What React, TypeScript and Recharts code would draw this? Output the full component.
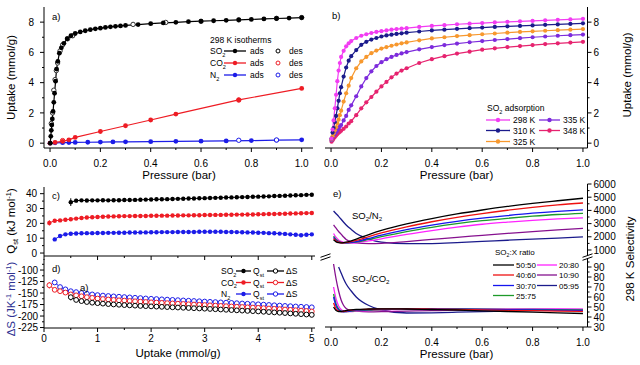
import React from 'react';
import { ComposedChart, Line, XAxis, YAxis, ErrorBar } from 'recharts';

const FONT = '"Liberation Sans", Arial, Helvetica, sans-serif';

// ---------- Panel a: 298 K isotherms ----------
const aSO2AdsP = [0.001,0.003,0.005,0.007,0.009,0.012,0.015,0.018,0.022,0.026,0.031,0.037,0.045,0.055,0.068,0.083,0.1,0.12,0.14,0.16,0.18,0.2,0.22,0.24,0.26,0.28,0.3,0.35,0.4,0.45,0.5,0.55,0.6,0.65,0.7,0.75,0.8,0.85,0.9,0.95,1.0];
const aSO2AdsV = [0.0,0.45,0.85,1.2,1.6,2.1,2.7,3.3,4.1,4.9,5.4,5.95,6.3,6.6,6.9,7.1,7.25,7.35,7.43,7.5,7.56,7.6,7.65,7.69,7.72,7.75,7.78,7.84,7.9,7.95,7.99,8.03,8.06,8.09,8.12,8.15,8.18,8.21,8.24,8.27,8.3];
const aSO2DesP = [0.005,0.01,0.015,0.02,0.025,0.03,0.04,0.05,0.07,0.09,0.33,0.46,0.6,0.75,0.9,1.0];
const aSO2DesV = [1.3,2.0,3.5,4.2,4.8,5.3,6.1,6.5,6.9,7.1,7.85,7.98,8.05,8.15,8.25,8.3];
const aCO2AdsP = [0.0,0.02,0.05,0.075,0.1,0.2,0.3,0.4,0.5,0.75,1.0];
const aCO2AdsV = [0.0,0.05,0.12,0.22,0.38,0.77,1.15,1.53,1.92,2.86,3.62];
const aCO2DesP = [0.05,0.75];
const aCO2DesV = [0.17,2.85];
const aN2AdsP = [0.0,0.02,0.05,0.075,0.1,0.15,0.2,0.25,0.3,0.4,0.5,0.6,0.7,0.8,0.9,1.0];
const aN2AdsV = [0.0,0.02,0.03,0.04,0.05,0.06,0.07,0.08,0.09,0.1,0.12,0.13,0.15,0.17,0.2,0.22];
const aN2DesP = [0.75,0.9];
const aN2DesV = [0.19,0.21];

// ---------- Panel b: SO2 adsorption at several temperatures ----------
const bP = [0.002,0.006,0.01,0.015,0.02,0.025,0.03,0.035,0.04,0.05,0.06,0.07,0.08,0.1,0.12,0.14,0.16,0.18,0.2,0.22,0.24,0.26,0.28,0.3,0.35,0.4,0.45,0.5,0.55,0.6,0.65,0.7,0.75,0.8,0.85,0.9,0.95,1.0];
const b298 = [0.3,0.9,1.5,2.3,3.2,4.1,4.8,5.3,5.7,6.1,6.4,6.6,6.75,6.95,7.1,7.2,7.28,7.35,7.4,7.45,7.5,7.54,7.57,7.6,7.68,7.75,7.8,7.86,7.9,7.94,7.98,8.02,8.05,8.08,8.12,8.15,8.18,8.22];
const b310 = [0.3,0.7,1.0,1.4,1.8,2.3,2.8,3.3,3.7,4.4,5.0,5.45,5.75,6.15,6.5,6.7,6.85,6.95,7.05,7.12,7.17,7.22,7.26,7.3,7.38,7.45,7.5,7.56,7.6,7.64,7.68,7.72,7.75,7.78,7.82,7.85,7.88,7.92];
const b325 = [0.25,0.45,0.65,0.85,1.05,1.3,1.55,1.85,2.15,2.75,3.3,3.8,4.3,4.95,5.4,5.7,5.95,6.12,6.25,6.35,6.44,6.52,6.6,6.66,6.8,6.92,7.0,7.08,7.14,7.2,7.25,7.3,7.35,7.39,7.43,7.47,7.5,7.54];
const b335 = [0.2,0.35,0.5,0.6,0.72,0.85,0.98,1.1,1.2,1.5,1.8,2.2,2.5,3.1,3.75,4.3,4.75,5.1,5.35,5.55,5.7,5.83,5.93,6.02,6.2,6.35,6.48,6.58,6.67,6.75,6.82,6.88,6.94,7.0,7.05,7.1,7.14,7.18];
const b348 = [0.1,0.2,0.3,0.4,0.5,0.6,0.68,0.75,0.82,0.95,1.1,1.3,1.45,1.85,2.3,2.7,3.05,3.4,3.75,4.05,4.35,4.6,4.8,4.95,5.3,5.55,5.75,5.92,6.05,6.18,6.27,6.35,6.42,6.48,6.55,6.6,6.65,6.7];
const bTemps = ['298 K', '310 K', '325 K', '335 K', '348 K'];

// ---------- Panels c & d: Qst and dS vs uptake ----------
const cdUptake = [0.1,0.2,0.3,0.4,0.5,0.6,0.7,0.8,0.9,1.0,1.1,1.2,1.3,1.4,1.5,1.6,1.7,1.8,1.9,2.0,2.1,2.2,2.3,2.4,2.5,2.6,2.7,2.8,2.9,3.0,3.1,3.2,3.3,3.4,3.5,3.6,3.7,3.8,3.9,4.0,4.1,4.2,4.3,4.4,4.5,4.6,4.7,4.8,4.9,5.0];
const qSO2 = [null,null,null,null,34.3,35.3,35.5,35.4,35.5,35.5,35.6,35.5,35.6,35.6,35.7,35.7,35.8,35.9,36.0,36.1,36.2,36.2,36.3,36.4,36.5,36.6,36.7,36.8,36.9,37.0,37.1,37.2,37.3,37.4,37.5,37.6,37.7,37.8,37.9,38.0,38.1,38.2,38.4,38.5,38.6,38.8,38.9,39.0,39.2,39.3];
const qCO2 = [20.3,21.8,22.0,22.4,22.8,23.2,23.6,23.9,24.1,24.3,24.5,24.6,24.7,24.8,24.9,24.9,25.0,25.0,25.0,25.1,25.1,25.2,25.2,25.3,25.3,25.4,25.4,25.5,25.5,25.6,25.6,25.7,25.7,25.8,25.8,25.9,25.9,26.0,26.0,26.1,26.2,26.3,26.3,26.4,26.5,26.6,26.7,26.8,26.9,27.0];
const qN2 = [null,9.2,11.5,12.6,13.0,13.2,13.3,13.4,13.4,13.5,13.5,13.6,13.6,13.7,13.7,13.8,13.8,13.9,13.9,14.0,14.0,14.1,14.1,14.1,14.2,14.2,14.2,14.2,14.3,14.3,14.3,14.3,14.3,14.2,14.2,14.1,14.0,13.9,13.8,13.7,13.6,13.4,13.3,13.1,12.9,12.6,12.3,12.0,12.3,12.6];
const sSO2 = [null,null,null,null,-159,-165,-167.5,-169.5,-171,-172,-173,-174,-174.8,-175.5,-176.2,-176.8,-177.4,-178,-178.5,-179,-179.5,-180,-180.5,-181,-181.5,-182,-182.5,-183,-183.5,-184,-184.6,-185.2,-185.8,-186.4,-187,-187.6,-188.2,-188.8,-189.4,-190,-190.7,-191.4,-192.1,-192.8,-193.5,-194.3,-195.1,-195.9,-196.7,-197.5];
const sCO2 = [-133,-143,-146,-149,-153,-155,-157,-159,-160.5,-162,-163,-164,-165,-165.8,-166.5,-167.3,-168,-168.8,-169.5,-170.2,-170.8,-171.4,-172,-172.6,-173.2,-173.8,-174.4,-175,-175.6,-176.2,-176.8,-177.4,-178,-178.6,-179.2,-179.8,-180.4,-181,-181.6,-182.2,-182.9,-183.6,-184.3,-185,-185.8,-186.6,-187.4,-188.2,-189,-190];
const sN2 = [null,-127,-137,-142,-146,-148,-150,-151.5,-153,-154.5,-155.5,-156.5,-157.3,-158,-158.8,-159.5,-160.3,-161,-161.8,-162.5,-163.1,-163.7,-164.3,-164.9,-165.5,-166.1,-166.7,-167.3,-167.9,-168.5,-169.1,-169.7,-170.3,-170.9,-171.5,-172.1,-172.7,-173.3,-173.9,-174.5,-175.2,-175.9,-176.6,-177.3,-178,-178.6,-179.2,-179.8,-180.4,-181];
// error bars (only the first few points have visible ones)
const qSO2Err = [0,0,0,0,2.6,1.2,0,0,0,0,0,0,0,0,0,0,0,0,0,0,0,0,0,0,0,0,0,0,0,0,0,0,0,0,0,0,0,0,0,0,0,0,0,0,0,0,0,0,0,0];
const qCO2Err = [1.8,0.8,0,0,0,0,0,0,0,0,0,0,0,0,0,0,0,0,0,0,0,0,0,0,0,0,0,0,0,0,0,0,0,0,0,0,0,0,0,0,0,0,0,0,0,0,0,0,0,0];
const qN2Err = [0,1.0,0,0,0,0,0,0,0,0,0,0,0,0,0,0,0,0,0,0,0,0,0,0,0,0,0,0,0,0,0,0,0,0,0,0,0,0,0,0,0,0,0,0,0,0,0,0,0,0];
const sSO2Err = [0,0,0,0,7,3,0,0,0,0,0,0,0,0,0,0,0,0,0,0,0,0,0,0,0,0,0,0,0,0,0,0,0,0,0,0,0,0,0,0,0,0,0,0,0,0,0,0,0,0];
const sCO2Err = [7,3,0,0,0,0,0,0,0,0,0,0,0,0,0,0,0,0,0,0,0,0,0,0,0,0,0,0,0,0,0,0,0,0,0,0,0,0,0,0,0,0,0,0,0,0,0,0,0,0];

// ---------- Panel e: selectivity ----------
const eP = [0.01,0.02,0.03,0.04,0.05,0.06,0.08,0.1,0.15,0.2,0.3,0.4,0.5,0.6,0.7,0.8,0.9,1.0];
const eRatios = ['50:50', '40:60', '30:70', '25:75', '20:80', '10:90', '05:95'];
const selN2_5050 = [1750,1620,1560,1540,1560,1600,1700,1830,2170,2480,2980,3380,3730,4030,4300,4530,4730,4920];
const selN2_4060 = [1850,1680,1590,1550,1550,1570,1640,1720,2020,2300,2760,3140,3470,3760,4010,4230,4420,4560];
const selN2_3070 = [1950,1740,1620,1560,1540,1545,1580,1640,1880,2120,2540,2880,3170,3410,3610,3790,3930,4040];
const selN2_2575 = [2050,1800,1660,1580,1550,1540,1560,1600,1800,2010,2400,2720,2990,3220,3400,3560,3690,3780];
const selN2_2080 = [2250,1950,1760,1650,1580,1550,1530,1550,1690,1850,2180,2470,2730,2950,3110,3250,3360,3440];
const selN2_1090 = [2900,2650,2400,2200,1980,1800,1620,1540,1480,1500,1640,1800,1960,2110,2260,2390,2520,2640];
const selN2_0595 = [3950,3750,3550,3330,3100,2900,2560,2250,1830,1600,1480,1490,1560,1650,1740,1820,1900,1990];
const selCO2_5050 = [50,46.5,45.5,45.5,46,46.5,47.2,47.6,48,48.2,48,47.5,47,46.2,45.5,44.8,44.2,43.5];
const selCO2_4060 = [54,48,46,45.3,45.5,46,46.8,47.3,47.8,48.2,48.2,47.9,47.5,47.1,46.7,46.3,45.9,45.6];
const selCO2_3070 = [60,51,47,45.5,45.2,45.5,46.2,46.8,47.3,47.9,48.2,48.1,47.8,47.6,47.3,47.1,46.8,46.6];
const selCO2_2575 = [63,53,48,46,45.3,45.3,45.8,46.3,46.8,47.5,48,48.1,48,47.8,47.6,47.5,47.3,47.2];
const selCO2_2080 = [70,58,51,47.5,46,45.5,45.5,45.8,46.5,47,47.6,48,48.1,48.1,48.1,48,48,47.9];
const selCO2_1090 = [93,78,66,57,51.5,48.5,46.5,45.8,45.2,45.3,45.9,46.4,46.8,47.1,47.3,47.5,47.6,47.7];
const selCO2_0595 = [null,null,90,84,78,73,66,60,51.5,47,44,44.2,44.8,45.4,46,46.5,46.9,47.3];

// ---------- ticks ----------
const pTicks = [0,0.1,0.2,0.3,0.4,0.5,0.6,0.7,0.8,0.9,1.0];
const pMajors = [0,0.2,0.4,0.6,0.8,1.0];
const upTicks = [0,1,2,3,4,5,6,7,8];
const upMajors = [0,2,4,6,8];
const uTicks = [0,0.5,1,1.5,2,2.5,3,3.5,4,4.5,5];
const uMajors = [0,1,2,3,4,5];
const qTicks = [0,5,10,15,20,25,30,35,40];
const qMajors = [0,10,20,30,40];
const sTicks = [-225,-212.5,-200,-187.5,-175,-162.5,-150,-137.5,-125,-112.5,-100,-87.5];
const sMajors = [-225,-200,-175,-150,-125,-100];
const selHiTicks = [1000,1500,2000,2500,3000,3500,4000,4500,5000,5500,6000];
const selHiMajors = [1000,2000,3000,4000,5000,6000];
const selLoTicks = [30,35,40,45,50,55,60,65,70,75,80,85,90,95];
const selLoMajors = [30,40,50,60,70,80,90];

// ---------- colours ----------
const C_SO2 = '#000000';
const C_CO2 = '#ee1c24';
const C_N2 = '#1c1ce8';
const bColors = ['#f23cf2', '#1b1b8c', '#f7982e', '#7d2bdc', '#e6236f'];
const eColors = ['#000000', '#ee1111', '#1515ee', '#1e9a2a', '#ff22ff', '#86118f', '#1b1b8c'];

const pts = (xs: number[], ys: (number | null)[]) => xs.map((x, i) => ({ x, y: ys[i] }));

type Side = 'left' | 'right' | 'bottom';
function tickR(side: Side, majors: number[], fmt: ((v: number) => string) | null, gap = 6, size = 10) {
  return (props: any) => {
    const { x, y, payload } = props;
    const v = Number(payload.value);
    const isMajor = majors.some((m) => Math.abs(m - v) < 1e-6);
    const L = isMajor ? 4 : 2;
    const label = isMajor && fmt ? fmt(v) : null;
    if (side === 'left') {
      return (
        <g>
          <line x1={x - L} y1={y} x2={x} y2={y} stroke="#000" strokeWidth={1} />
          {label !== null && (
            <text x={x - 4 - gap} y={y + size * 0.36} textAnchor="end" fontSize={size} fontFamily={FONT} fill="#000">{label}</text>
          )}
        </g>
      );
    }
    if (side === 'right') {
      return (
        <g>
          <line x1={x} y1={y} x2={x + L} y2={y} stroke="#000" strokeWidth={1} />
          {label !== null && (
            <text x={x + 4 + gap} y={y + size * 0.36} textAnchor="start" fontSize={size} fontFamily={FONT} fill="#000">{label}</text>
          )}
        </g>
      );
    }
    return (
      <g>
        <line x1={x} y1={y} x2={x} y2={y + L} stroke="#000" strokeWidth={1} />
        {label !== null && (
          <text x={x} y={y + gap} textAnchor="middle" fontSize={size} fontFamily={FONT} fill="#000">{label}</text>
        )}
      </g>
    );
  };
}

const fmt1 = (v: number) => v.toFixed(1);
const fmt0 = (v: number) => String(v);
const AX = { stroke: '#000', strokeWidth: 1 };

const filledDot = (c: string, r = 2.3) => ({ r, fill: c, stroke: c, strokeWidth: 0 });
const openDot = (c: string, r = 2.3) => ({ r, fill: '#fff', stroke: c, strokeWidth: 1 });

// ---------- rich text helper ----------
type Part = [string, 'n' | 'sub' | 'sup'];
function Rich({ x, y, parts, size = 10, anchor = 'start', fill = '#000', rot = false }: { x: number; y: number; parts: Part[]; size?: number; anchor?: 'start' | 'middle' | 'end'; fill?: string; rot?: boolean }) {
  let cur = 0;
  const spans = parts.map(([t, k], i) => {
    const target = k === 'sub' ? size * 0.3 : k === 'sup' ? -size * 0.38 : 0;
    const dy = target - cur;
    cur = target;
    return (
      <tspan key={i} dy={dy} fontSize={k === 'n' ? size : size * 0.65}>{t}</tspan>
    );
  });
  return (
    <text x={x} y={y} fontSize={size} textAnchor={anchor} fill={fill} fontFamily={FONT} transform={rot ? `rotate(-90 ${x} ${y})` : undefined}>
      {spans}
    </text>
  );
}

function LegLine({ x1, x2, y, c, marker }: { x1: number; x2: number; y: number; c: string; marker: 'filled' | 'open' | 'none' }) {
  const cx = (x1 + x2) / 2;
  return (
    <g>
      <line x1={x1} x2={x2} y1={y} y2={y} stroke={c} strokeWidth={1.3} />
      {marker === 'filled' && <circle cx={cx} cy={y} r={2.2} fill={c} />}
      {marker === 'open' && <circle cx={cx} cy={y} r={2.2} fill="#fff" stroke={c} strokeWidth={1} />}
    </g>
  );
}

function Overlay() {
  const gasA: [string, string, string][] = [['SO', '2', C_SO2], ['CO', '2', C_CO2], ['N', '2', C_N2]];
  const aRows = [51, 63, 75];
  const dRows = [271, 282.5, 294];
  const bRows = [120, 130.5, 141.5];
  const eRows = [265, 275, 285.5, 295.5];
  return (
    <svg width={640} height={365} style={{ position: 'absolute', left: 0, top: 0, pointerEvents: 'none' }}>
      {/* panel labels */}
      <text x={52} y={19.5} fontSize={9.5} fontFamily={FONT}>a)</text>
      <text x={332} y={18.5} fontSize={9.5} fontFamily={FONT}>b)</text>
      <text x={52} y={198.5} fontSize={9.5} fontFamily={FONT}>c)</text>
      <text x={52} y={271.5} fontSize={9.5} fontFamily={FONT}>d)</text>
      <text x={80} y={290.5} fontSize={9.5} fontFamily={FONT}>a)</text>
      <text x={333} y={196.5} fontSize={9.5} fontFamily={FONT}>e)</text>

      {/* axis titles */}
      <text x={179} y={179} fontSize={11.5} textAnchor="middle" fontFamily={FONT}>Pressure (bar)</text>
      <text x={456.5} y={179} fontSize={11.5} textAnchor="middle" fontFamily={FONT}>Pressure (bar)</text>
      <text x={178} y={357} fontSize={11.5} textAnchor="middle" fontFamily={FONT}>Uptake (mmol/g)</text>
      <text x={456.5} y={357.5} fontSize={11.5} textAnchor="middle" fontFamily={FONT}>Pressure (bar)</text>
      <text x={15} y={77.5} fontSize={11.5} textAnchor="middle" fontFamily={FONT} transform="rotate(-90 15 77.5)">Uptake (mmol/g)</text>
      <text x={630.5} y={75} fontSize={11.5} textAnchor="middle" fontFamily={FONT} transform="rotate(-90 630.5 75)">Uptake (mmol/g)</text>
      <text x={633.5} y={259} fontSize={11.5} textAnchor="middle" fontFamily={FONT} transform="rotate(-90 633.5 259)">298 K Selectivity</text>
      <Rich x={15} y={221} size={11.5} anchor="middle" rot parts={[['Q', 'n'], ['st', 'sub'], [' (kJ mol', 'n'], ['-1', 'sup'], [')', 'n']]} />
      <Rich x={15} y={299} size={11.5} anchor="middle" rot fill="#2e3192" parts={[['\u0394S (JK', 'n'], ['-1', 'sup'], [' mol', 'n'], ['-1', 'sup'], [')', 'n']]} />

      {/* legend a */}
      <text x={210} y={43} fontSize={8.5} fontFamily={FONT}>298 K isotherms</text>
      {gasA.map(([g, s, c], i) => (
        <g key={g}>
          <Rich x={210} y={aRows[i] + 3} size={8.5} parts={[[g, 'n'], [s, 'sub']]} />
          <LegLine x1={224} x2={246} y={aRows[i]} c={c} marker="filled" />
          <text x={250} y={aRows[i] + 3} fontSize={8.5} fontFamily={FONT}>ads</text>
          <circle cx={278} cy={aRows[i]} r={2} fill="#fff" stroke={c} strokeWidth={1} />
          <text x={289} y={aRows[i] + 3} fontSize={8.5} fontFamily={FONT}>des</text>
        </g>
      ))}

      {/* legend b */}
      <Rich x={487} y={111} size={8.5} parts={[['SO', 'n'], ['2', 'sub'], [' adsorption', 'n']]} />
      {bTemps.map((t, i) => {
        const col = i < 3 ? 0 : 1;
        const row = i < 3 ? i : i - 3;
        const x1 = col === 0 ? 486 : 539;
        const x2 = col === 0 ? 510 : 560;
        const tx = col === 0 ? 513 : 563;
        return (
          <g key={t}>
            <LegLine x1={x1} x2={x2} y={bRows[row]} c={bColors[i]} marker="filled" />
            <text x={tx} y={bRows[row] + 3} fontSize={8.5} fontFamily={FONT}>{t}</text>
          </g>
        );
      })}

      {/* legend d */}
      {gasA.map(([g, s, c], i) => (
        <g key={'d' + g}>
          <Rich x={221} y={dRows[i] + 3} size={8.5} parts={[[g, 'n'], [s, 'sub']]} />
          <LegLine x1={236} x2={251} y={dRows[i]} c={c} marker="filled" />
          <Rich x={253} y={dRows[i] + 3} size={8.5} parts={[['Q', 'n'], ['st', 'sub']]} />
          <LegLine x1={267} x2={284} y={dRows[i]} c={c} marker="open" />
          <text x={286} y={dRows[i] + 3} fontSize={8.5} fontFamily={FONT}>{'\u0394S'}</text>
        </g>
      ))}

      {/* legend e */}
      <Rich x={495} y={255} size={8} parts={[['SO', 'n'], ['2', 'sub'], [':X ratio', 'n']]} />
      {eRatios.map((r, i) => {
        const col = i < 4 ? 0 : 1;
        const row = i < 4 ? i : i - 4;
        const x1 = col === 0 ? 493 : 537;
        const x2 = col === 0 ? 514 : 557;
        const tx = col === 0 ? 516 : 559;
        return (
          <g key={r}>
            <LegLine x1={x1} x2={x2} y={eRows[row]} c={eColors[i]} marker="none" />
            <text x={tx} y={eRows[row] + 3} fontSize={8} fontFamily={FONT}>{r}</text>
          </g>
        );
      })}
      <Rich x={352} y={218.5} size={9.5} parts={[['SO', 'n'], ['2', 'sub'], ['/N', 'n'], ['2', 'sub']]} />
      <Rich x={352} y={281.5} size={9.5} parts={[['SO', 'n'], ['2', 'sub'], ['/CO', 'n'], ['2', 'sub']]} />

      {/* axis break marks */}
      {[325.5, 587.5].map((bx) => (
        <g key={bx}>
          <rect x={bx - 4} y={255.5} width={8} height={3} fill="#fff" />
          <line x1={bx - 5} y1={257.3} x2={bx + 5} y2={253.8} stroke="#000" strokeWidth={1} />
          <line x1={bx - 5} y1={260.3} x2={bx + 5} y2={256.8} stroke="#000" strokeWidth={1} />
        </g>
      ))}
    </svg>
  );
}

export default function App() {
  const aDomX: [number, number] = [-0.024, 1.045];
  const abDomY: [number, number] = [-0.32, 9.0];
  const bDomX: [number, number] = [-0.024, 1.018];
  const cdDomX: [number, number] = [0, 5.06];
  const qDom: [number, number] = [-2, 44.5];
  const sDom: [number, number] = [-226, -76];
  const hiDom: [number, number] = [545, 6000];
  const loDom: [number, number] = [30, 99];

  const cdRows = cdUptake.map((u, i) => ({
    u,
    qSO2: qSO2[i], qCO2: qCO2[i], qN2: qN2[i],
    sSO2: sSO2[i], sCO2: sCO2[i], sN2: sN2[i],
    eqSO2: qSO2Err[i], eqCO2: qCO2Err[i], eqN2: qN2Err[i],
    esSO2: sSO2Err[i], esCO2: sCO2Err[i],
  }));
  const bRows = bP.map((p, i) => ({ p, t0: b298[i], t1: b310[i], t2: b325[i], t3: b335[i], t4: b348[i] }));
  const hiSets = [selN2_5050, selN2_4060, selN2_3070, selN2_2575, selN2_2080, selN2_1090, selN2_0595];
  const loSets = [selCO2_5050, selCO2_4060, selCO2_3070, selCO2_2575, selCO2_2080, selCO2_1090, selCO2_0595];
  const eRows = eP.map((p, i) => {
    const r: any = { p };
    hiSets.forEach((s, k) => (r['h' + k] = s[i]));
    loSets.forEach((s, k) => (r['l' + k] = s[i]));
    return r;
  });

  return (
    <div style={{ position: 'absolute', left: 0, top: 0, width: 640, height: 365, background: '#fff', fontFamily: FONT }}>
      {/* Panel a */}
      <div style={{ position: 'absolute', left: 0, top: 0 }}>
        <ComposedChart width={320} height={178} margin={{ top: 7, right: 7, bottom: 0, left: 0 }}>
          <XAxis xAxisId="b" type="number" dataKey="x" domain={aDomX} allowDataOverflow ticks={pTicks} interval={0} tickSize={0} tickMargin={0} tickLine={false} axisLine={AX} tick={tickR('bottom', pMajors, fmt1, 18.5)} height={30} />
          <XAxis xAxisId="t" orientation="top" type="number" domain={aDomX} allowDataOverflow tick={false} tickLine={false} axisLine={AX} height={0} />
          <YAxis yAxisId="l" type="number" domain={abDomY} allowDataOverflow ticks={upTicks} interval={0} tickSize={0} tickMargin={0} tickLine={false} axisLine={AX} tick={tickR('left', upMajors, fmt0, 6)} width={44} />
          <YAxis yAxisId="r" orientation="right" type="number" domain={abDomY} allowDataOverflow tick={false} tickLine={false} axisLine={AX} width={0} />
          <Line xAxisId="b" yAxisId="l" data={pts(aN2AdsP, aN2AdsV)} dataKey="y" stroke={C_N2} strokeWidth={1.2} dot={filledDot(C_N2, 2.4)} isAnimationActive={false} />
          <Line xAxisId="b" yAxisId="l" data={pts(aN2DesP, aN2DesV)} dataKey="y" stroke="none" dot={openDot(C_N2, 2.2)} isAnimationActive={false} />
          <Line xAxisId="b" yAxisId="l" data={pts(aCO2DesP, aCO2DesV)} dataKey="y" stroke="none" dot={openDot(C_CO2, 2.2)} isAnimationActive={false} />
          <Line xAxisId="b" yAxisId="l" data={pts(aCO2AdsP, aCO2AdsV)} dataKey="y" stroke={C_CO2} strokeWidth={1.2} dot={filledDot(C_CO2, 2.4)} isAnimationActive={false} />
          <Line xAxisId="b" yAxisId="l" data={pts(aSO2DesP, aSO2DesV)} dataKey="y" stroke="none" dot={openDot('#333', 2.2)} isAnimationActive={false} />
          <Line xAxisId="b" yAxisId="l" data={pts(aSO2AdsP, aSO2AdsV)} dataKey="y" stroke={C_SO2} strokeWidth={1.2} dot={filledDot(C_SO2, 2.4)} isAnimationActive={false} />
        </ComposedChart>
      </div>

      {/* Panel b */}
      <div style={{ position: 'absolute', left: 320, top: 0 }}>
        <ComposedChart width={320} height={178} data={bRows} margin={{ top: 7, right: 0, bottom: 0, left: 5 }}>
          <XAxis xAxisId="b" type="number" dataKey="p" domain={bDomX} allowDataOverflow ticks={pTicks} interval={0} tickSize={0} tickMargin={0} tickLine={false} axisLine={AX} tick={tickR('bottom', pMajors, fmt1, 18.5)} height={30} />
          <XAxis xAxisId="t" orientation="top" type="number" dataKey="p" domain={bDomX} allowDataOverflow tick={false} tickLine={false} axisLine={AX} height={0} />
          <YAxis yAxisId="r" orientation="right" type="number" domain={abDomY} allowDataOverflow ticks={upTicks} interval={0} tickSize={0} tickMargin={0} tickLine={false} axisLine={AX} tick={tickR('right', upMajors, fmt0, 2)} width={52.5} />
          <YAxis yAxisId="l" type="number" domain={abDomY} allowDataOverflow tick={false} tickLine={false} axisLine={AX} width={0} />
          {[4, 3, 2, 1, 0].map((k) => (
            <Line key={k} xAxisId="b" yAxisId="r" dataKey={'t' + k} stroke={bColors[k]} strokeWidth={1.2} dot={filledDot(bColors[k], 2.1)} isAnimationActive={false} />
          ))}
        </ComposedChart>
      </div>

      {/* Panel c */}
      <div style={{ position: 'absolute', left: 0, top: 180 }}>
        <ComposedChart width={320} height={80} data={cdRows} margin={{ top: 7, right: 5, bottom: 0, left: 0 }}>
          <XAxis xAxisId="b" type="number" dataKey="u" domain={cdDomX} allowDataOverflow ticks={uTicks} interval={0} tickSize={0} tickMargin={0} tickLine={false} axisLine={AX} tick={tickR('bottom', uMajors, null)} height={4} />
          <XAxis xAxisId="t" orientation="top" type="number" dataKey="u" domain={cdDomX} allowDataOverflow tick={false} tickLine={false} axisLine={AX} height={0} />
          <YAxis yAxisId="l" type="number" domain={qDom} allowDataOverflow ticks={qTicks} interval={0} tickSize={0} tickMargin={0} tickLine={false} axisLine={AX} tick={tickR('left', qMajors, fmt0, 3)} width={44} />
          <YAxis yAxisId="r" orientation="right" type="number" domain={qDom} allowDataOverflow tick={false} tickLine={false} axisLine={AX} width={0} />
          <Line xAxisId="b" yAxisId="l" dataKey="qN2" stroke={C_N2} strokeWidth={1} dot={filledDot(C_N2, 2.2)} isAnimationActive={false}>
            <ErrorBar dataKey="eqN2" width={0} stroke={C_N2} strokeWidth={1} direction="y" />
          </Line>
          <Line xAxisId="b" yAxisId="l" dataKey="qCO2" stroke={C_CO2} strokeWidth={1} dot={filledDot(C_CO2, 2.2)} isAnimationActive={false}>
            <ErrorBar dataKey="eqCO2" width={0} stroke={C_CO2} strokeWidth={1} direction="y" />
          </Line>
          <Line xAxisId="b" yAxisId="l" dataKey="qSO2" stroke={C_SO2} strokeWidth={1} dot={filledDot(C_SO2, 2.2)} isAnimationActive={false}>
            <ErrorBar dataKey="eqSO2" width={0} stroke={C_SO2} strokeWidth={1} direction="y" />
          </Line>
        </ComposedChart>
      </div>

      {/* Panel d */}
      <div style={{ position: 'absolute', left: 0, top: 252 }}>
        <ComposedChart width={320} height={106} data={cdRows} margin={{ top: 7, right: 5, bottom: 0, left: 0 }}>
          <XAxis xAxisId="b" type="number" dataKey="u" domain={cdDomX} allowDataOverflow ticks={uTicks} interval={0} tickSize={0} tickMargin={0} tickLine={false} axisLine={AX} tick={tickR('bottom', uMajors, fmt0, 14)} height={30} />
          <XAxis xAxisId="t" orientation="top" type="number" dataKey="u" domain={cdDomX} allowDataOverflow tick={false} tickLine={false} axisLine={AX} height={0} />
          <YAxis yAxisId="l" type="number" domain={sDom} allowDataOverflow ticks={sTicks} interval={0} tickSize={0} tickMargin={0} tickLine={false} axisLine={AX} tick={tickR('left', sMajors, fmt0, 2)} width={44} />
          <YAxis yAxisId="r" orientation="right" type="number" domain={sDom} allowDataOverflow tick={false} tickLine={false} axisLine={AX} width={0} />
          <Line xAxisId="b" yAxisId="l" dataKey="sN2" stroke={C_N2} strokeWidth={1} dot={openDot(C_N2, 2.4)} isAnimationActive={false} />
          <Line xAxisId="b" yAxisId="l" dataKey="sCO2" stroke={C_CO2} strokeWidth={1} dot={openDot(C_CO2, 2.4)} isAnimationActive={false}>
            <ErrorBar dataKey="esCO2" width={0} stroke={C_CO2} strokeWidth={1} direction="y" />
          </Line>
          <Line xAxisId="b" yAxisId="l" dataKey="sSO2" stroke={C_SO2} strokeWidth={1} dot={openDot(C_SO2, 2.4)} isAnimationActive={false}>
            <ErrorBar dataKey="esSO2" width={0} stroke={C_SO2} strokeWidth={1} direction="y" />
          </Line>
        </ComposedChart>
      </div>

      {/* Panel e upper: SO2/N2 */}
      <div style={{ position: 'absolute', left: 320, top: 177 }}>
        <ComposedChart width={320} height={79} data={eRows} margin={{ top: 7, right: 0, bottom: 0, left: 5 }}>
          <XAxis xAxisId="b" type="number" dataKey="p" domain={bDomX} allowDataOverflow hide />
          <XAxis xAxisId="t" orientation="top" type="number" dataKey="p" domain={bDomX} allowDataOverflow tick={false} tickLine={false} axisLine={AX} height={0} />
          <YAxis yAxisId="r" orientation="right" type="number" domain={hiDom} allowDataOverflow ticks={selHiTicks} interval={0} tickSize={0} tickMargin={0} tickLine={false} axisLine={AX} tick={tickR('right', selHiMajors, fmt0, 2)} width={52.5} />
          <YAxis yAxisId="l" type="number" domain={hiDom} allowDataOverflow tick={false} tickLine={false} axisLine={AX} width={0} />
          {[6, 5, 4, 3, 2, 1, 0].map((k) => (
            <Line key={k} xAxisId="b" yAxisId="r" type="monotone" dataKey={'h' + k} stroke={eColors[k]} strokeWidth={1.3} dot={false} isAnimationActive={false} />
          ))}
        </ComposedChart>
      </div>

      {/* Panel e lower: SO2/CO2 */}
      <div style={{ position: 'absolute', left: 320, top: 251 }}>
        <ComposedChart width={320} height={106} data={eRows} margin={{ top: 7, right: 0, bottom: 0, left: 5 }}>
          <XAxis xAxisId="b" type="number" dataKey="p" domain={bDomX} allowDataOverflow ticks={pTicks} interval={0} tickSize={0} tickMargin={0} tickLine={false} axisLine={AX} tick={tickR('bottom', pMajors, fmt1, 18.5)} height={30} />
          <YAxis yAxisId="r" orientation="right" type="number" domain={loDom} allowDataOverflow ticks={selLoTicks} interval={0} tickSize={0} tickMargin={0} tickLine={false} axisLine={AX} tick={tickR('right', selLoMajors, fmt0, 2)} width={52.5} />
          <YAxis yAxisId="l" type="number" domain={loDom} allowDataOverflow tick={false} tickLine={false} axisLine={AX} width={0} />
          {[6, 5, 4, 3, 2, 1, 0].map((k) => (
            <Line key={k} xAxisId="b" yAxisId="r" type="monotone" dataKey={'l' + k} stroke={eColors[k]} strokeWidth={1.3} dot={false} isAnimationActive={false} />
          ))}
        </ComposedChart>
      </div>

      <Overlay />
    </div>
  );
}
